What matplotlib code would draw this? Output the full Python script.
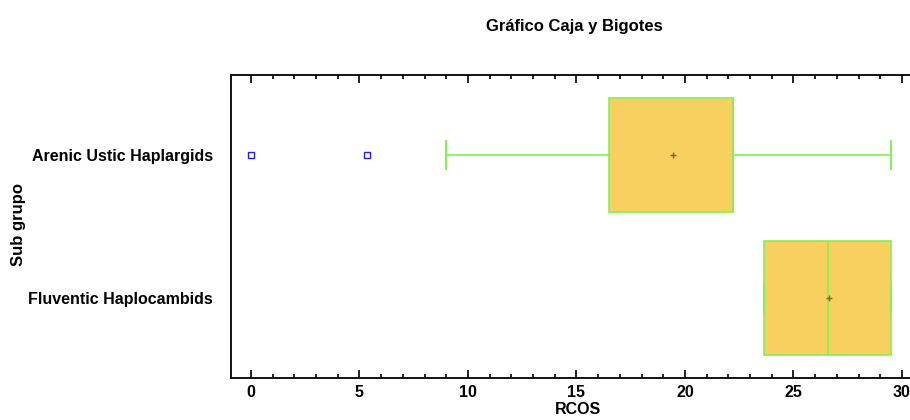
import matplotlib
matplotlib.use("Agg")
import matplotlib.pyplot as plt
from matplotlib.ticker import MultipleLocator

plt.rcParams['font.family'] = ['Liberation Sans', 'DejaVu Sans']

categories = ["Fluventic Haplocambids", "Arenic Ustic Haplargids"]
q1 = [23.65, 16.5]
med = [26.57, 22.2]
q3 = [29.5, 22.2]
whislo = [23.65, 9.0]
whishi = [29.5, 29.5]
means = [26.62, 19.45]
outliers = [[], [0.0, 5.35]]

W, H = 910, 420
fig = plt.figure(figsize=(W/100, H/100), dpi=100)
ax = fig.add_axes([231/W, 1-378/H, 1-231/W+0.01, (378-75)/H])

stats = []
for i in range(len(categories)):
    stats.append(dict(label=categories[i], q1=q1[i], med=med[i], q3=q3[i],
                      whislo=whislo[i], whishi=whishi[i], mean=means[i],
                      fliers=outliers[i]))

edge = '#88EE55'
ax.bxp(stats, positions=[0, 1], vert=False, widths=0.8, patch_artist=True,
       showmeans=True, showfliers=True, capwidths=0.2,
       boxprops=dict(facecolor='#F8D060', edgecolor=edge, linewidth=1.2),
       whiskerprops=dict(color=edge, linewidth=1.2),
       capprops=dict(color=edge, linewidth=1.5),
       medianprops=dict(color=edge, linewidth=1.2),
       meanprops=dict(marker='+', markeredgecolor='#9A5A10', markersize=5, markeredgewidth=1),
       flierprops=dict(marker='s', markerfacecolor='none', markeredgecolor='#2020E0',
                       markersize=4, markeredgewidth=1))

ax.set_xlim(-0.92, 30.37 + 0.42)
ax.set_ylim(-0.56, 1.56)
ax.set_yticks([0, 1])
ax.set_yticklabels(categories, fontsize=11.5, fontweight='bold')
ax.xaxis.set_major_locator(MultipleLocator(5))
ax.xaxis.set_minor_locator(MultipleLocator(1))
ax.tick_params(axis='x', which='both', direction='in', top=True, bottom=True,
               labelsize=11.5, width=1.2, pad=5)
ax.tick_params(axis='x', which='major', length=6)
ax.tick_params(axis='x', which='minor', length=3)
ax.tick_params(axis='y', length=0, pad=13)
for lab in ax.get_xticklabels():
    lab.set_fontweight('bold')
ax.spines['right'].set_visible(False)
for s in ['left', 'top', 'bottom']:
    ax.spines[s].set_linewidth(1.3)

fig.text(578/W, 1-410/H, "RCOS", ha='center', va='center',
         fontsize=11.5, fontweight='bold')
fig.text(19/W, 1-225/H, "Sub grupo", ha='center', va='center', rotation=90,
         fontsize=12, fontweight='bold')
fig.text(574/W, 1-26/H, "Gráfico Caja y Bigotes", ha='center', va='center',
         fontsize=12, fontweight='bold')

fig.savefig("out.png", dpi=100)
